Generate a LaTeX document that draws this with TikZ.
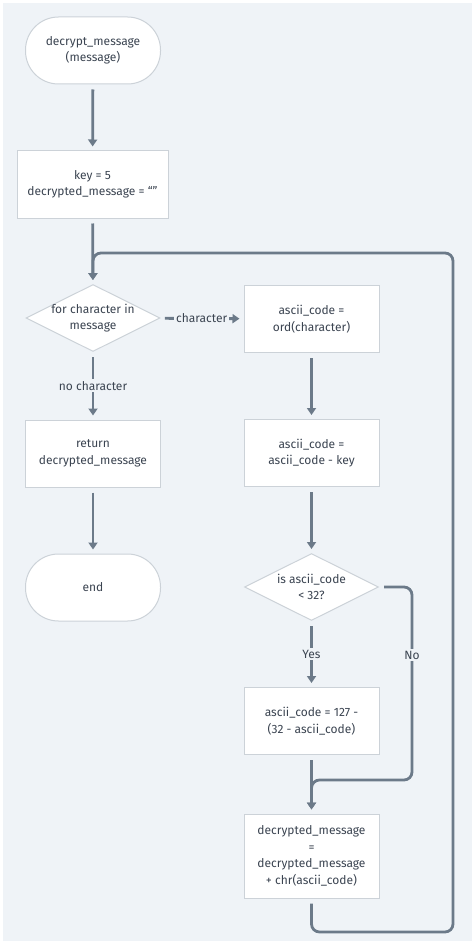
\documentclass[tikz,border=0pt]{standalone}
\usepackage{fontspec}
\setmainfont{Fira Sans}
\usepackage{tikz}
\usetikzlibrary{arrows.meta,positioning,calc,shapes.geometric}
\definecolor{fond}{HTML}{EFF3F7}
\definecolor{gristrait}{HTML}{6C7A89}
\definecolor{grisbord}{HTML}{CCD2D8}
\definecolor{gristexte}{HTML}{3B4451}

\begin{document}
\begin{tikzpicture}[x=1pt,y=-1pt]
\tikzstyle{fleche}=[-{Triangle[length=7pt,width=9pt]},line width=2.8pt,draw=gristrait,shorten <=5pt,shorten >=4pt]
\tikzstyle{bloc}=[draw=grisbord,fill=white,line width=1pt,align=center,text=gristexte,font=\fontsize{12}{16.5}\selectfont,minimum width=135pt,minimum height=67pt,inner sep=2pt]
\tikzstyle{terminal}=[bloc,rounded corners=33pt]
\tikzstyle{test}=[bloc,diamond,aspect=2,inner sep=-5pt,minimum width=134pt,minimum height=67pt]
\tikzstyle{etiquette}=[fill=fond,text=gristexte,font=\fontsize{12}{14}\selectfont,inner sep=2pt]
\def\ColonneA{93}
\def\ColonneB{311.5}
% fond
\useasboundingbox (0,0) rectangle (474,952);
\fill[white] (0,0) rectangle (474,952);
\fill[fond] (3,3) rectangle (472,941);
% noeuds
\node[terminal] (debut) at (\ColonneA,50.5) {decrypt\_message\\(message)};
\node[bloc,minimum width=151pt] (init) at (92.5,184.5) {key = 5\\decrypted\_message = “”};
\node[test] (boucle) at (\ColonneA,318) {for character in\\message};
\node[bloc] (retour) at (\ColonneA,453.5) {return\\decrypted\_message};
\node[terminal] (fin) at (\ColonneA,587.5) {end};
\node[bloc] (ord) at (\ColonneB,319) {ascii\_code =\\ord(character)};
\node[bloc] (sous) at (\ColonneB,453) {ascii\_code =\\ascii\_code - key};
\node[test] (seuil) at (\ColonneB,587) {is ascii\_code\\< 32?};
\node[bloc] (corr) at (\ColonneB,721) {ascii\_code = 127 -\\(32 - ascii\_code)};
\node[bloc,minimum height=84pt] (ajout) at (\ColonneB,856) {decrypted\_message\\=\\decrypted\_message\\+ chr(ascii\_code)};
\coordinate (coinBas) at (453,932);
\coordinate (coinHaut) at (453,253);
\coordinate (coinNon) at (412,780);
% connecteurs
\draw[fleche] (debut)--(init);
\draw[fleche] (init)--(boucle);
\draw[fleche] (boucle)-- node[etiquette]{character} (ord);
\draw[fleche] (boucle)-- node[etiquette]{no character} (retour);
\draw[fleche] (retour)--(fin);
\draw[fleche] (ord)--(sous);
\draw[fleche] (sous)--(seuil);
\draw[fleche] (seuil)-- node[etiquette]{Yes} (corr);
\draw[fleche] (corr)--(ajout);
\draw[fleche,rounded corners=8pt] (seuil.east) -| (coinNon) -| (ajout.north);
\node[etiquette] (non) at (412,655) {No};
\draw[fleche,rounded corners=8pt] (ajout.south) |- (coinBas) -- (coinHaut) -| (boucle.north);
\end{tikzpicture}
\end{document}
